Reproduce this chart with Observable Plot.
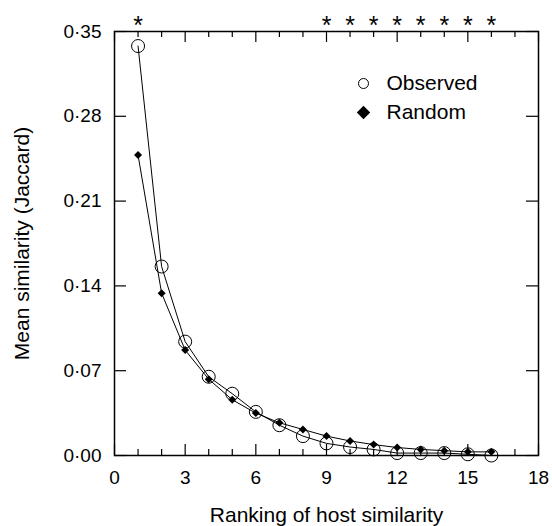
<!DOCTYPE html>
<html><head><meta charset="utf-8">
<script src="https://cdn.jsdelivr.net/npm/d3@7"></script>
<script src="https://cdn.jsdelivr.net/npm/@observablehq/plot@0.6"></script>
<style>body{margin:0;background:#fff}</style>
</head><body><div id="chart"></div>
<script>
const ranks = [1, 2, 3, 4, 5, 6, 7, 8, 9, 10, 11, 12, 13, 14, 15, 16];
const observed = [0.338, 0.156, 0.094, 0.065, 0.051, 0.036, 0.025, 0.016, 0.010, 0.007, 0.005, 0.002, 0.002, 0.002, 0.001, 0.000];
const random = [0.248, 0.134, 0.087, 0.063, 0.046, 0.035, 0.027, 0.0215, 0.016, 0.012, 0.009, 0.0066, 0.005, 0.004, 0.003, 0.003];
const starRanks = [1, 9, 10, 11, 12, 13, 14, 15, 16];
const xMajorTicks = [0, 3, 6, 9, 12, 15, 18];
const xMinorTicks = [1, 2, 4, 5, 7, 8, 10, 11, 13, 14, 16, 17];
const yTicks = [0, 0.07, 0.14, 0.21, 0.28, 0.35];
const seriesNames = ["Observed", "Random"];
const xLabel = "Ranking of host similarity";
const yLabel = "Mean similarity (Jaccard)";

const xDomain = [0, 18], yDomain = [0, 0.35];
const obsData = ranks.map((r, i) => ({rank: r, value: observed[i]}));
const rndData = ranks.map((r, i) => ({rank: r, value: random[i]}));
const fmt = d => d3.format(".2f")(d).replace(".", "\u00B7");

const W = 552, H = 526, ML = 114, MR = 14, MT = 31, MB = 71;
const FW = W - ML - MR, FH = H - MT - MB; // frame size in px
// tick lengths in px, converted to data units so the rules are placed by the scales
const yPerPx = (yDomain[1] - yDomain[0]) / FH, xPerPx = (xDomain[1] - xDomain[0]) / FW;
const majorLen = 11 * yPerPx, minorLen = 6 * yPerPx, yLen = 12 * xPerPx;
const tickStyle = {stroke: "black", strokeWidth: 1.2};

const chart = Plot.plot({
  width: W, height: H,
  marginLeft: ML, marginRight: MR, marginTop: MT, marginBottom: MB,
  style: {fontFamily: "'Liberation Sans', Arial, sans-serif", fontSize: "19px", color: "black", background: "white"},
  x: {domain: xDomain},
  y: {domain: yDomain},
  marks: [
    Plot.frame({stroke: "black", fill: "none", strokeWidth: 1.5}),
    // tick labels
    Plot.axisX({ticks: xMajorTicks, anchor: "bottom", tickSize: 0, tickPadding: 15, tickFormat: d => String(d), label: null}),
    Plot.axisY({ticks: yTicks, anchor: "left", tickSize: 0, tickPadding: 13, tickFormat: fmt, label: null}),
    // inward tick marks on all four sides
    Plot.ruleX(xMajorTicks, {x: d => d, y1: yDomain[0], y2: yDomain[0] + majorLen, ...tickStyle}),
    Plot.ruleX(xMinorTicks, {x: d => d, y1: yDomain[0], y2: yDomain[0] + minorLen, ...tickStyle}),
    Plot.ruleX(xMajorTicks, {x: d => d, y1: yDomain[1], y2: yDomain[1] - majorLen, ...tickStyle}),
    Plot.ruleX(xMinorTicks, {x: d => d, y1: yDomain[1], y2: yDomain[1] - minorLen, ...tickStyle}),
    Plot.ruleY(yTicks, {y: d => d, x1: xDomain[0], x2: xDomain[0] + yLen, ...tickStyle}),
    Plot.ruleY(yTicks, {y: d => d, x1: xDomain[1], x2: xDomain[1] - yLen, ...tickStyle}),
    // axis titles
    Plot.text([xLabel], {text: d => d, frameAnchor: "bottom", dy: 66, textAnchor: "middle", lineAnchor: "bottom", fontSize: 21}),
    Plot.text([yLabel], {text: d => d, frameAnchor: "left", dx: -92, rotate: -90, textAnchor: "middle", lineAnchor: "middle", fontSize: 21}),
    // significance stars
    Plot.text(starRanks, {x: d => d, text: () => "*", frameAnchor: "top", textAnchor: "middle", lineAnchor: "bottom", dy: 2, fontSize: 25}),
    // series
    Plot.line(obsData, {x: "rank", y: "value", stroke: "black", strokeWidth: 1}),
    Plot.line(rndData, {x: "rank", y: "value", stroke: "black", strokeWidth: 1}),
    Plot.dot(obsData, {x: "rank", y: "value", r: 6.5, stroke: "black", fill: "none", strokeWidth: 1}),
    Plot.dot(rndData, {x: "rank", y: "value", r: 3.6, symbol: "diamond2", fill: "black", stroke: "none"}),
    // legend
    Plot.dot([seriesNames[0]], {frameAnchor: "top-left", dx: 249, dy: 52, r: 5, stroke: "black", fill: "none", strokeWidth: 1}),
    Plot.dot([seriesNames[1]], {frameAnchor: "top-left", dx: 249, dy: 81, r: 6, symbol: "diamond2", fill: "black", stroke: "none"}),
    Plot.text([seriesNames[0]], {text: d => d, frameAnchor: "top-left", dx: 272, dy: 52, textAnchor: "start", lineAnchor: "middle", fontSize: 21}),
    Plot.text([seriesNames[1]], {text: d => d, frameAnchor: "top-left", dx: 272, dy: 81, textAnchor: "start", lineAnchor: "middle", fontSize: 21})
  ]
});
document.getElementById("chart").appendChild(chart);
</script>
</body></html>
